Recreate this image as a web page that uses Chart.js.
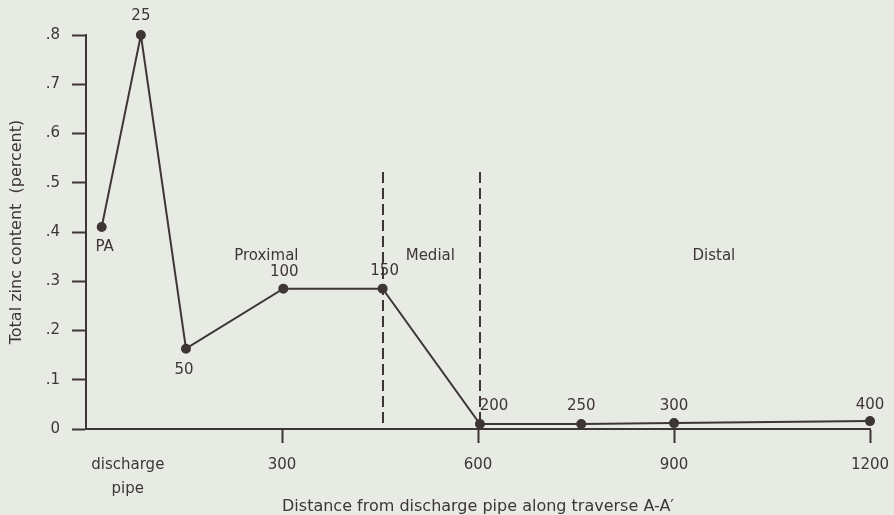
<!DOCTYPE html>
<html>
<head>
<meta charset="utf-8">
<script src="https://cdn.jsdelivr.net/npm/chart.js@4/dist/chart.umd.min.js"></script>
<style>
  html, body { margin: 0; padding: 0; background: #e8eae4; }
  #wrap { width: 894px; height: 515px; }
</style>
</head>
<body>
<div id="wrap"><canvas id="chart" width="894" height="515"></canvas></div>
<script>
// samples along traverse A-A'
const sampleLabels = ['PA', '25', '50', '100', '150', '200', '250', '300', '400'];
const distances = [24, 84, 153, 302, 454, 603, 758, 900, 1200];
const zincPercent = [0.41, 0.80, 0.163, 0.285, 0.285, 0.01, 0.01, 0.012, 0.016];

const xTickValues = [64, 300, 600, 900, 1200];
const xTickLabels = [['discharge', 'pipe'], '300', '600', '900', '1200'];

const zoneBounds = [454, 603];
const zoneNames = ['Proximal', 'Medial', 'Distal'];
const zoneCenters = [276, 527, 961];

const ink = '#3d3536';
const font = '"DejaVu Sans", sans-serif';

// label placement relative to the point: [dx, dy]
const labelOffsets = {
  PA: [3, 20], '25': [0, -19], '50': [-2, 21], '100': [1, -17], '150': [2, -18],
  '200': [14, -18], '250': [0, -18], '300': [0, -17], '400': [0, -16],
};

const annotate = {
  id: 'annotate',
  afterDatasetsDraw(chart) {
    const { ctx, scales: { x, y } } = chart;
    ctx.save();

    // zone boundaries
    ctx.strokeStyle = ink;
    ctx.lineWidth = 2;
    ctx.setLineDash([11, 5]);
    zoneBounds.forEach((b) => {
      const px = Math.round(x.getPixelForValue(b));
      ctx.beginPath();
      ctx.moveTo(px, y.getPixelForValue(0.522));
      ctx.lineTo(px, y.getPixelForValue(0));
      ctx.stroke();
    });
    ctx.setLineDash([]);

    ctx.fillStyle = ink;
    ctx.font = `15px ${font}`;
    ctx.textAlign = 'center';
    ctx.textBaseline = 'middle';
    zoneNames.forEach((name, i) => {
      ctx.fillText(name, x.getPixelForValue(zoneCenters[i]), y.getPixelForValue(0.351));
    });

    const meta = chart.getDatasetMeta(0);
    meta.data.forEach((pt, i) => {
      const off = labelOffsets[sampleLabels[i]] || [0, -18];
      ctx.fillText(sampleLabels[i], pt.x + off[0], pt.y + off[1]);
    });
    ctx.restore();
  },
};

new Chart(document.getElementById('chart'), {
  type: 'scatter',
  data: {
    datasets: [{
      data: distances.map((d, i) => ({ x: d, y: zincPercent[i] })),
      showLine: true,
      borderColor: ink,
      backgroundColor: ink,
      borderWidth: 2,
      pointRadius: 4,
      tension: 0,
    }],
  },
  options: {
    responsive: false,
    animation: false,
    clip: false,
    layout: { padding: { left: 0, right: 24, top: 35, bottom: 0 } },
    plugins: { legend: { display: false }, tooltip: { enabled: false } },
    scales: {
      x: {
        type: 'linear',
        min: 0,
        max: 1200,
        afterBuildTicks(scale) {
          scale.ticks = xTickValues.map((v) => ({ value: v }));
        },
        afterFit(scale) {
          scale.height = 86;
          scale.paddingLeft = 0;
          scale.paddingRight = 0;
        },
        border: { color: ink, width: 2 },
        grid: {
          drawOnChartArea: false,
          tickLength: 14,
          tickWidth: 2,
          tickColor: (c) => (c.tick && c.tick.value === 64 ? 'rgba(0,0,0,0)' : ink),
        },
        ticks: {
          color: ink,
          padding: 10,
          maxRotation: 0,
          autoSkip: false,
          font: { family: font, size: 15, lineHeight: 1.6 },
          callback: (v) => {
            const i = xTickValues.indexOf(v);
            return i >= 0 ? xTickLabels[i] : '';
          },
        },
        title: {
          display: true,
          text: 'Distance from discharge pipe along traverse A-A\u2032',
          color: ink,
          font: { family: font, size: 16, lineHeight: 1.0 },
          padding: { top: 0, bottom: 0 },
        },
      },
      y: {
        min: 0,
        max: 0.8,
        afterFit(scale) { scale.width = 86; },
        border: { color: ink, width: 2 },
        grid: {
          drawOnChartArea: false,
          tickLength: 14,
          tickWidth: 2,
          tickColor: ink,
        },
        ticks: {
          stepSize: 0.1,
          color: ink,
          padding: 12,
          font: { family: font, size: 15 },
          callback: (v) => (v === 0 ? '0' : '.' + Math.round(v * 10)),
        },
        title: {
          display: true,
          text: 'Total zinc content  (percent)',
          color: ink,
          font: { family: font, size: 16, lineHeight: 1.2 },
          padding: { top: 7, bottom: 0 },
        },
      },
    },
  },
  plugins: [annotate],
});
</script>
</body>
</html>
